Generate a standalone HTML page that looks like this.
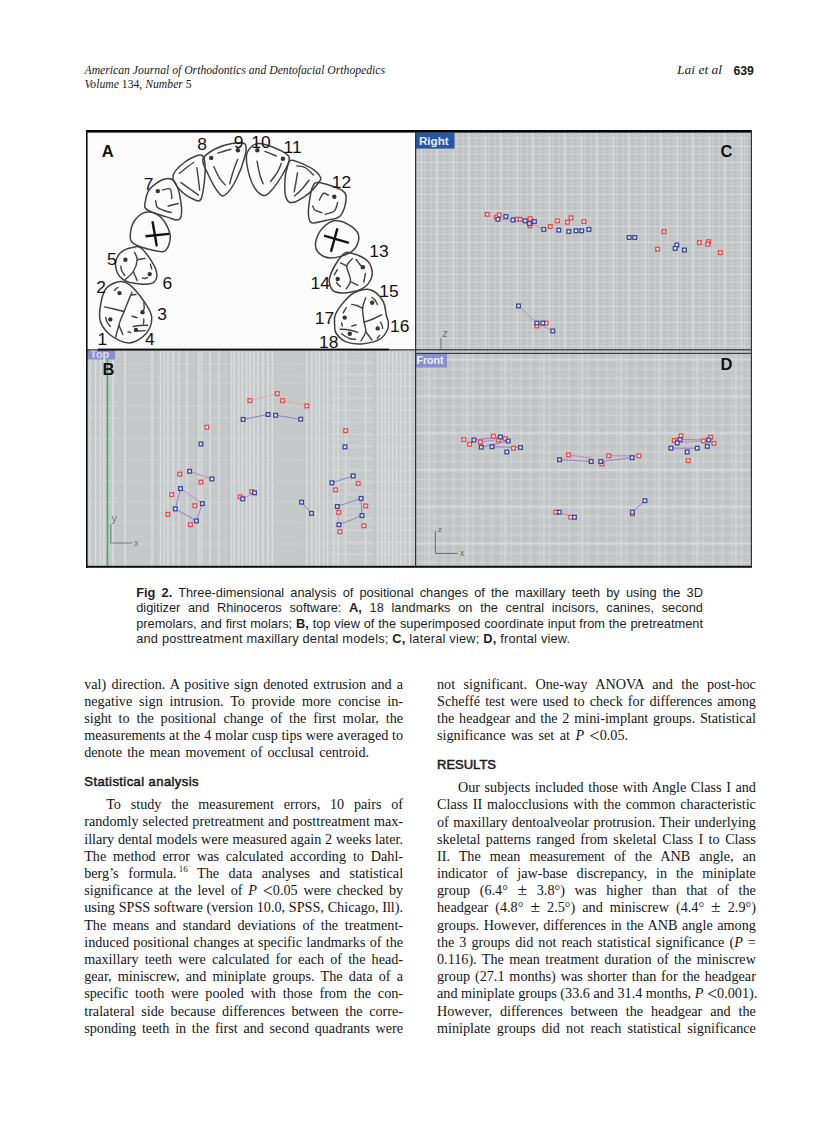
<!DOCTYPE html>
<html><head><meta charset="utf-8">
<style>
html,body{margin:0;padding:0;}
body{width:838px;height:1122px;position:relative;background:#fff;overflow:hidden;color:#111;}
.b{position:absolute;font-family:"Liberation Serif",serif;font-size:14.2px;line-height:16.5px;white-space:nowrap;color:#151515;}
.j{text-align:justify;text-align-last:justify;}
.lt{font-size:18px;line-height:0;vertical-align:-2px;}
.pm{font-size:17.5px;line-height:0;}
.b sup{font-size:9px;line-height:0;vertical-align:6px;margin-left:2px;}
.h{position:absolute;font-family:"Liberation Sans",sans-serif;font-weight:normal;-webkit-text-stroke:0.5px #1a1a1a;font-size:13px;line-height:14px;white-space:nowrap;color:#1a1a1a;}
.c{position:absolute;font-family:"Liberation Sans",sans-serif;font-size:12.8px;line-height:14px;white-space:nowrap;color:#1e1e1e;}
.hd{position:absolute;font-family:"Liberation Serif",serif;font-style:italic;white-space:nowrap;color:#1a1a1a;}
svg{position:absolute;left:0;top:0;}
</style></head><body>
<div class="hd" style="left:84.5px;top:64.25px;font-size:11.7px;line-height:13px;">American Journal of Orthodontics and Dentofacial Orthopedics</div>
<div class="hd" style="left:84.5px;top:77.55px;font-size:11.7px;line-height:13px;">Volume <span style="font-style:normal">134,</span> Number <span style="font-style:normal">5</span></div>
<div class="hd" style="left:677px;top:61.74px;font-size:13.5px;line-height:15px;">Lai et al</div>
<div style="position:absolute;left:733.4px;top:64.53px;font-family:'Liberation Sans',sans-serif;font-weight:bold;font-size:12.3px;line-height:13px;color:#1a1a1a;">639</div>
<svg width="838" height="1122" viewBox="0 0 838 1122"><defs>
<pattern id="cV1" patternUnits="userSpaceOnUse" x="1.6" y="0" width="6.4" height="10"><rect x="0" y="0" width="1.1" height="10" fill="#cdd0d0"/></pattern>
<pattern id="cV2" patternUnits="userSpaceOnUse" x="4.8" y="0" width="32" height="10"><rect x="-1.1" y="0" width="2.2" height="10" fill="#dcdfdf"/><rect x="15" y="0" width="1.6" height="10" fill="#d5d8d8"/></pattern>
<pattern id="cH1" patternUnits="userSpaceOnUse" x="0" y="2" width="10" height="16"><rect x="0" y="-1" width="10" height="2" fill="#d9dcdc"/><rect x="0" y="7.5" width="10" height="1.3" fill="#d0d3d3"/><rect x="0" y="4" width="10" height="0.8" fill="#c8cbcb"/><rect x="0" y="12" width="10" height="0.8" fill="#c8cbcb"/></pattern>
<pattern id="dV1" patternUnits="userSpaceOnUse" x="1.8" y="0" width="9.6" height="10"><rect x="-1" y="0" width="2" height="10" fill="#d3d6d6"/><rect x="4.3" y="0" width="1" height="10" fill="#bcc0c0"/></pattern>
<pattern id="dH1" patternUnits="userSpaceOnUse" x="0" y="0.8" width="10" height="9.2"><rect x="0" y="-0.9" width="10" height="1.8" fill="#d3d6d6"/><rect x="0" y="4.1" width="10" height="1" fill="#bec2c2"/></pattern>
<pattern id="dV2" patternUnits="userSpaceOnUse" x="0" y="0" width="38.4" height="10"><rect x="5.6" y="0" width="1.6" height="10" fill="#dadddd" opacity="0.8"/></pattern>
<pattern id="dH2" patternUnits="userSpaceOnUse" x="0" y="0" width="10" height="36.8"><rect x="0" y="27.5" width="10" height="1.6" fill="#dadddd" opacity="0.8"/></pattern>
<pattern id="bH" patternUnits="userSpaceOnUse" x="0" y="1.5" width="10" height="12"><rect x="0" y="0" width="10" height="1.4" fill="#d6d9d9" opacity="0.8"/><rect x="0" y="6" width="10" height="1" fill="#d0d3d3" opacity="0.6"/></pattern>
</defs><rect x="87" y="132" width="328.5" height="218" fill="#fcfcfc"/>
<g><rect x="415.5" y="132" width="336" height="218" fill="#bec2c2"/><rect x="415.5" y="132" width="336" height="218" fill="url(#cV1)"/><rect x="415.5" y="132" width="336" height="218" fill="url(#cH1)"/><rect x="415.5" y="132" width="336" height="218" fill="url(#cV2)"/></g>
<g><rect x="415.5" y="350" width="336" height="216.5" fill="#c3c7c7"/><rect x="415.5" y="350" width="336" height="216.5" fill="url(#dV1)"/><rect x="415.5" y="350" width="336" height="216.5" fill="url(#dH1)"/><rect x="415.5" y="350" width="336" height="216.5" fill="url(#dV2)"/><rect x="415.5" y="350" width="336" height="216.5" fill="url(#dH2)"/></g>
<rect x="87" y="350" width="328.5" height="216.5" fill="#c5c9c9"/>
<rect x="89.2" y="350" width="1.5" height="216.5" fill="#dadddd"/>
<rect x="94.8" y="350" width="1.5" height="216.5" fill="#dadddd"/>
<rect x="99.8" y="350" width="1.5" height="216.5" fill="#dadddd"/>
<rect x="103.2" y="350" width="1.5" height="216.5" fill="#dadddd"/>
<rect x="112.2" y="350" width="1.5" height="216.5" fill="#dadddd"/>
<rect x="124.2" y="350" width="1.5" height="216.5" fill="#dadddd"/>
<rect x="151.2" y="350" width="1.5" height="216.5" fill="#dadddd"/>
<rect x="159.8" y="350" width="1.5" height="216.5" fill="#dadddd"/>
<rect x="163.6" y="350" width="1.5" height="216.5" fill="#dadddd"/>
<rect x="167.2" y="350" width="1.5" height="216.5" fill="#dadddd"/>
<rect x="172.2" y="350" width="1.5" height="216.5" fill="#dadddd"/>
<rect x="177.9" y="350" width="1.5" height="216.5" fill="#dadddd"/>
<rect x="186.2" y="350" width="1.5" height="216.5" fill="#dadddd"/>
<rect x="197.8" y="350" width="1.5" height="216.5" fill="#dadddd"/>
<rect x="200.8" y="350" width="1.5" height="216.5" fill="#dadddd"/>
<rect x="209.2" y="350" width="1.5" height="216.5" fill="#dadddd"/>
<rect x="217.9" y="350" width="1.5" height="216.5" fill="#dadddd"/>
<rect x="230.8" y="350" width="1.5" height="216.5" fill="#dadddd"/>
<rect x="233.7" y="350" width="1.5" height="216.5" fill="#dadddd"/>
<rect x="237.9" y="350" width="1.5" height="216.5" fill="#dadddd"/>
<rect x="241.6" y="350" width="1.5" height="216.5" fill="#dadddd"/>
<rect x="245.8" y="350" width="1.5" height="216.5" fill="#dadddd"/>
<rect x="249.4" y="350" width="1.5" height="216.5" fill="#dadddd"/>
<rect x="253.1" y="350" width="1.5" height="216.5" fill="#dadddd"/>
<rect x="257.2" y="350" width="1.5" height="216.5" fill="#dadddd"/>
<rect x="262.2" y="350" width="1.5" height="216.5" fill="#dadddd"/>
<rect x="267.2" y="350" width="1.5" height="216.5" fill="#dadddd"/>
<rect x="271.6" y="350" width="1.5" height="216.5" fill="#dadddd"/>
<rect x="305.8" y="350" width="1.5" height="216.5" fill="#dadddd"/>
<rect x="311.1" y="350" width="1.5" height="216.5" fill="#dadddd"/>
<rect x="315.1" y="350" width="1.5" height="216.5" fill="#dadddd"/>
<rect x="318.6" y="350" width="1.5" height="216.5" fill="#dadddd"/>
<rect x="322.8" y="350" width="1.5" height="216.5" fill="#dadddd"/>
<rect x="326.9" y="350" width="1.5" height="216.5" fill="#dadddd"/>
<rect x="333.2" y="350" width="1.5" height="216.5" fill="#dadddd"/>
<rect x="337.4" y="350" width="1.5" height="216.5" fill="#dadddd"/>
<rect x="344.9" y="350" width="1.5" height="216.5" fill="#dadddd"/>
<rect x="364.8" y="350" width="1.5" height="216.5" fill="#dadddd"/>
<rect x="376.9" y="350" width="1.5" height="216.5" fill="#dadddd"/>
<rect x="380.9" y="350" width="1.5" height="216.5" fill="#dadddd"/>
<rect x="384.6" y="350" width="1.5" height="216.5" fill="#dadddd"/>
<rect x="388.1" y="350" width="1.5" height="216.5" fill="#dadddd"/>
<rect x="391.9" y="350" width="1.5" height="216.5" fill="#dadddd"/>
<rect x="395.8" y="350" width="1.5" height="216.5" fill="#dadddd"/>
<rect x="399.8" y="350" width="1.5" height="216.5" fill="#dadddd"/>
<rect x="404.2" y="350" width="1.5" height="216.5" fill="#dadddd"/>
<rect x="409.2" y="350" width="1.5" height="216.5" fill="#dadddd"/>
<rect x="330" y="350" width="85.5" height="216.5" fill="url(#bH)"/>
<rect x="121.0" y="350" width="2" height="216.5" fill="#bfc3c3" opacity="0.7"/>
<rect x="154.8" y="350" width="2" height="216.5" fill="#bfc3c3" opacity="0.7"/>
<rect x="195.0" y="350" width="2" height="216.5" fill="#bfc3c3" opacity="0.7"/>
<rect x="228.0" y="350" width="2" height="216.5" fill="#bfc3c3" opacity="0.7"/>
<rect x="303.0" y="350" width="2" height="216.5" fill="#bfc3c3" opacity="0.7"/>
<rect x="374.0" y="350" width="2" height="216.5" fill="#bfc3c3" opacity="0.7"/>
<rect x="87" y="363.7" width="328.5" height="1.2" fill="#d3d6d6" opacity="0.6"/>
<rect x="87" y="375.4" width="328.5" height="1.2" fill="#d3d6d6" opacity="0.6"/>
<rect x="87" y="382.4" width="328.5" height="1.2" fill="#d3d6d6" opacity="0.6"/>
<rect x="87" y="405.4" width="328.5" height="1.2" fill="#d3d6d6" opacity="0.6"/>
<rect x="87" y="417.2" width="328.5" height="1.2" fill="#d3d6d6" opacity="0.6"/>
<rect x="87" y="438.2" width="328.5" height="1.2" fill="#d3d6d6" opacity="0.6"/>
<rect x="87" y="459.4" width="328.5" height="1.2" fill="#d3d6d6" opacity="0.6"/>
<rect x="87" y="480.4" width="328.5" height="1.2" fill="#d3d6d6" opacity="0.6"/>
<rect x="87" y="501.4" width="328.5" height="1.2" fill="#d3d6d6" opacity="0.6"/>
<rect x="87" y="522.4" width="328.5" height="1.2" fill="#d3d6d6" opacity="0.6"/>
<rect x="87" y="543.4" width="328.5" height="1.2" fill="#d3d6d6" opacity="0.6"/>
<path d="M117.6 282.0 C121.8 280.9 124.8 281.1 129.4 284.6 C134.0 288.1 141.4 297.5 145.1 303.0 C148.8 308.5 151.5 312.4 151.7 317.4 C151.9 322.4 150.1 328.9 146.4 333.2 C142.7 337.5 135.5 342.8 129.4 343.0 C123.3 343.2 114.6 338.6 109.7 334.5 C104.8 330.4 100.7 325.9 99.8 318.7 C98.9 311.5 101.4 297.3 104.4 291.2 C107.4 285.1 113.4 283.1 117.6 282.0Z" fill="none" stroke="#404040" stroke-width="1.5"/>
<path d="M133.3 247.2 C137.0 246.5 138.8 245.6 142.5 249.2 C146.2 252.8 153.6 263.4 155.6 268.9 C157.6 274.4 156.9 279.5 154.3 282.0 C151.7 284.5 145.2 284.4 139.9 284.0 C134.7 283.6 126.8 282.4 122.8 279.4 C118.8 276.4 116.0 270.6 115.6 266.2 C115.2 261.8 117.2 256.3 120.2 253.1 C123.2 249.9 129.6 247.8 133.3 247.2Z" fill="none" stroke="#404040" stroke-width="1.5"/>
<path d="M147.6 212.0 C151.9 211.8 157.8 214.1 161.6 218.0 C165.4 221.9 169.5 229.8 170.2 235.2 C170.9 240.6 168.4 247.6 165.9 250.2 C163.4 252.8 160.6 251.8 155.2 250.7 C149.8 249.6 137.8 246.6 133.7 243.7 C129.6 240.8 130.1 237.1 130.4 233.0 C130.8 228.9 132.9 222.5 135.8 219.0 C138.7 215.5 143.3 212.2 147.6 212.0Z" fill="none" stroke="#404040" stroke-width="1.5"/>
<path d="M149.8 189.0 C152.8 185.4 159.6 180.6 163.7 179.3 C167.8 178.0 171.6 177.6 174.5 181.4 C177.4 185.2 180.0 195.6 180.9 201.9 C181.8 208.2 182.1 216.4 179.9 219.0 C177.8 221.6 173.6 219.0 168.0 217.4 C162.4 215.8 150.3 212.2 146.6 209.4 C142.8 206.6 145.0 204.2 145.5 200.8 C146.0 197.4 146.8 192.6 149.8 189.0Z" fill="none" stroke="#404040" stroke-width="1.5"/>
<path d="M173.0 176.0 C173.8 171.3 180.3 165.5 185.0 162.0 C189.7 158.5 197.7 154.5 201.0 155.0 C204.3 155.5 204.5 160.0 205.0 165.0 C205.5 170.0 204.7 179.3 204.0 185.0 C203.3 190.7 202.5 196.5 201.0 199.0 C199.5 201.5 198.5 201.5 195.0 200.0 C191.5 198.5 183.7 194.0 180.0 190.0 C176.3 186.0 172.2 180.7 173.0 176.0Z" fill="none" stroke="#404040" stroke-width="1.5"/>
<path d="M203.0 159.0 C204.3 155.2 210.2 151.6 215.0 149.0 C219.8 146.4 227.0 144.3 232.0 143.5 C237.0 142.7 242.8 141.9 245.0 144.0 C247.2 146.1 246.5 150.0 245.0 156.0 C243.5 162.0 239.3 173.5 236.0 180.0 C232.7 186.5 228.0 193.0 225.0 195.0 C222.0 197.0 221.0 195.8 218.0 192.0 C215.0 188.2 209.5 177.5 207.0 172.0 C204.5 166.5 201.7 162.8 203.0 159.0Z" fill="none" stroke="#404040" stroke-width="1.5"/>
<path d="M247.5 152.0 C249.3 148.4 253.4 144.2 258.0 143.5 C262.6 142.8 269.8 145.8 275.0 148.0 C280.2 150.2 287.5 153.0 289.0 157.0 C290.5 161.0 287.2 166.2 284.0 172.0 C280.8 177.8 273.7 188.2 270.0 192.0 C266.3 195.8 264.8 196.2 262.0 195.0 C259.2 193.8 255.5 190.0 253.0 185.0 C250.5 180.0 247.9 170.5 247.0 165.0 C246.1 159.5 245.7 155.6 247.5 152.0Z" fill="none" stroke="#404040" stroke-width="1.5"/>
<path d="M292.0 160.2 C296.0 160.5 307.0 165.7 311.7 168.4 C316.4 171.2 318.9 174.4 320.1 176.7 C321.3 179.0 321.1 179.1 319.0 182.0 C316.9 184.9 312.2 190.9 307.6 194.3 C303.1 197.7 295.3 202.2 291.7 202.6 C288.1 203.0 286.9 200.7 285.8 196.8 C284.7 192.9 284.7 184.2 285.0 179.2 C285.3 174.2 286.3 169.9 287.5 166.7 C288.7 163.5 288.0 159.9 292.0 160.2Z" fill="none" stroke="#404040" stroke-width="1.5"/>
<path d="M318.4 182.6 C323.3 183.1 337.2 187.2 341.8 190.1 C346.4 193.0 346.3 195.8 346.0 200.1 C345.7 204.4 343.4 212.7 340.2 216.0 C337.0 219.3 331.6 219.1 326.8 220.2 C322.1 221.3 314.8 223.8 311.7 222.7 C308.6 221.6 308.7 217.8 308.4 213.5 C308.1 209.2 309.4 201.2 310.1 196.8 C310.8 192.4 311.2 189.4 312.6 187.0 C314.0 184.6 313.5 182.1 318.4 182.6Z" fill="none" stroke="#404040" stroke-width="1.5"/>
<path d="M335.6 220.4 C340.4 220.3 347.8 223.9 351.7 226.7 C355.6 229.5 358.9 233.2 358.9 237.4 C358.9 241.6 356.5 248.3 351.7 251.7 C346.9 255.1 335.9 258.0 330.2 258.0 C324.5 258.0 320.1 254.5 317.7 251.7 C315.3 248.9 315.0 245.0 315.9 241.0 C316.8 237.0 319.8 230.9 323.1 227.5 C326.4 224.1 330.8 220.5 335.6 220.4Z" fill="none" stroke="#404040" stroke-width="1.5"/>
<path d="M343.6 254.2 C346.0 252.2 346.4 251.9 350.0 252.7 C353.6 253.5 361.8 256.6 365.4 259.2 C369.0 261.8 370.7 265.2 371.6 268.5 C372.5 271.8 372.4 275.8 371.0 279.0 C369.6 282.2 367.6 285.5 363.5 287.8 C359.4 290.1 351.6 292.1 346.7 292.7 C341.8 293.3 337.1 292.6 334.3 291.5 C331.6 290.4 331.0 288.3 330.2 286.0 C329.4 283.7 328.7 281.4 329.6 277.8 C330.5 274.2 333.2 268.4 335.5 264.5 C337.8 260.6 341.2 256.2 343.6 254.2Z" fill="none" stroke="#404040" stroke-width="1.5"/>
<path d="M346.0 299.5 C349.4 295.8 351.6 293.6 355.6 292.0 C359.7 290.4 365.8 288.3 370.3 289.7 C374.8 291.1 380.0 296.1 382.7 300.5 C385.4 304.9 385.6 312.4 386.5 316.0 C387.4 319.6 388.2 319.7 388.3 322.0 C388.4 324.3 388.8 327.1 387.4 330.0 C385.9 332.9 384.0 337.0 379.6 339.3 C375.2 341.6 366.7 343.5 361.0 343.9 C355.3 344.3 349.7 343.4 345.5 341.6 C341.3 339.8 337.8 335.7 336.0 333.0 C334.2 330.3 334.8 328.4 334.7 325.3 C334.6 322.2 333.5 318.8 335.4 314.5 C337.3 310.2 342.6 303.2 346.0 299.5Z" fill="none" stroke="#404040" stroke-width="1.5"/>
<path d="M162.7 190.0 C163.9 189.8 168.7 187.6 170.2 189.0 C171.7 190.4 171.5 197.0 171.8 198.6" fill="none" stroke="#404040" stroke-width="1.4" stroke-linecap="round"/>
<path d="M155.7 200.8 C156.0 201.9 155.9 205.6 157.3 207.2 C158.7 208.8 161.7 209.6 164.0 210.5 C166.3 211.4 170.1 212.2 171.3 212.6" fill="none" stroke="#404040" stroke-width="1.4" stroke-linecap="round"/>
<path d="M168.0 206.1 C169.7 205.7 176.5 203.9 178.2 203.5" fill="none" stroke="#404040" stroke-width="1.4" stroke-linecap="round"/>
<path d="M217.8 153.1 C220.0 152.4 228.7 149.8 230.9 149.2" fill="none" stroke="#404040" stroke-width="1.4" stroke-linecap="round"/>
<path d="M213.9 166.7 C214.8 168.6 217.6 175.1 219.5 178.1 C221.4 181.1 224.2 183.8 225.2 184.9" fill="none" stroke="#404040" stroke-width="1.4" stroke-linecap="round"/>
<path d="M237.7 159.4 C236.9 161.5 234.3 167.9 233.0 172.0 C231.7 176.1 230.2 181.8 229.7 183.8" fill="none" stroke="#404040" stroke-width="1.4" stroke-linecap="round"/>
<path d="M264.9 151.4 C266.8 152.2 274.3 155.2 276.2 156.0" fill="none" stroke="#404040" stroke-width="1.4" stroke-linecap="round"/>
<path d="M257.0 161.1 C257.5 163.4 258.8 170.9 259.8 174.7 C260.8 178.5 262.6 182.3 263.2 183.8" fill="none" stroke="#404040" stroke-width="1.4" stroke-linecap="round"/>
<path d="M281.3 163.3 C280.6 164.8 279.2 169.4 277.4 172.4 C275.6 175.4 271.7 180.0 270.6 181.5" fill="none" stroke="#404040" stroke-width="1.4" stroke-linecap="round"/>
<path d="M179.3 173.4 C180.4 172.5 183.6 169.8 186.0 168.0 C188.4 166.2 192.2 163.4 193.5 162.5" fill="none" stroke="#404040" stroke-width="1.4" stroke-linecap="round"/>
<path d="M180.9 182.6 C182.4 183.7 187.1 186.9 190.0 189.0 C192.9 191.1 197.1 194.1 198.5 195.1" fill="none" stroke="#404040" stroke-width="1.4" stroke-linecap="round"/>
<path d="M196.8 167.6 C197.1 169.7 198.0 176.2 198.5 180.0 C199.0 183.8 199.5 188.4 199.7 190.1" fill="none" stroke="#404040" stroke-width="1.4" stroke-linecap="round"/>
<path d="M296.7 165.9 C298.1 166.2 302.3 166.0 305.1 167.5 C307.9 169.0 312.0 173.8 313.4 175.1" fill="none" stroke="#404040" stroke-width="1.4" stroke-linecap="round"/>
<path d="M297.5 172.6 C297.2 174.2 296.6 178.8 296.0 182.0 C295.4 185.2 294.5 190.2 294.2 191.8" fill="none" stroke="#404040" stroke-width="1.4" stroke-linecap="round"/>
<path d="M309.2 180.1 C308.0 181.6 304.4 186.3 302.0 189.0 C299.6 191.7 295.8 194.8 294.6 196.0" fill="none" stroke="#404040" stroke-width="1.4" stroke-linecap="round"/>
<path d="M319.3 200.1 C320.0 199.0 321.9 194.2 323.4 193.4 C324.9 192.6 327.6 194.8 328.5 195.1" fill="none" stroke="#404040" stroke-width="1.4" stroke-linecap="round"/>
<path d="M312.6 206.0 C313.0 206.7 313.6 209.1 315.1 210.2 C316.6 211.3 320.7 212.3 321.8 212.7" fill="none" stroke="#404040" stroke-width="1.4" stroke-linecap="round"/>
<path d="M325.1 214.3 C326.6 213.8 332.2 212.9 334.3 211.0 C336.4 209.1 337.1 204.0 337.6 202.6" fill="none" stroke="#404040" stroke-width="1.4" stroke-linecap="round"/>
<path d="M104.4 306.9 C106.0 307.2 110.7 308.2 114.0 309.0 C117.3 309.8 122.4 311.1 124.1 311.5" fill="none" stroke="#404040" stroke-width="1.4" stroke-linecap="round"/>
<path d="M132.0 292.5 C131.8 292.9 131.4 293.4 130.7 295.1 C129.9 296.9 128.6 300.3 127.5 303.0 C126.4 305.7 125.3 308.7 124.1 311.5 C122.9 314.3 121.4 317.7 120.5 320.0 C119.6 322.3 119.7 322.4 118.9 325.3 C118.1 328.2 116.1 335.1 115.6 337.1" fill="none" stroke="#404040" stroke-width="1.4" stroke-linecap="round"/>
<path d="M130.7 295.1 C131.6 295.0 135.1 294.6 136.0 294.5" fill="none" stroke="#404040" stroke-width="1.4" stroke-linecap="round"/>
<path d="M118.9 325.3 C119.6 326.8 122.2 333.0 122.8 334.5" fill="none" stroke="#404040" stroke-width="1.4" stroke-linecap="round"/>
<path d="M114.3 290.5 C114.8 290.0 117.0 288.0 117.5 287.5" fill="none" stroke="#404040" stroke-width="1.4" stroke-linecap="round"/>
<path d="M143.8 303.0 C143.9 303.8 144.3 306.7 144.2 308.0 C144.1 309.3 143.2 310.5 143.0 311.0" fill="none" stroke="#404040" stroke-width="1.4" stroke-linecap="round"/>
<path d="M132.0 316.3 C132.9 316.5 136.3 317.4 137.2 317.6" fill="none" stroke="#404040" stroke-width="1.4" stroke-linecap="round"/>
<path d="M143.8 319.0 C143.8 319.8 143.6 323.2 143.5 324.0" fill="none" stroke="#404040" stroke-width="1.4" stroke-linecap="round"/>
<path d="M133.3 326.5 C134.4 326.3 137.6 325.7 140.0 325.5 C142.4 325.3 146.4 325.3 147.7 325.3" fill="none" stroke="#404040" stroke-width="1.4" stroke-linecap="round"/>
<path d="M134.6 330.6 C135.5 330.7 138.2 331.0 140.0 331.0 C141.8 331.0 144.2 330.7 145.1 330.6" fill="none" stroke="#404040" stroke-width="1.4" stroke-linecap="round"/>
<path d="M105.7 317.4 C105.9 318.2 106.2 320.5 107.0 322.0 C107.8 323.5 109.8 325.8 110.3 326.6" fill="none" stroke="#404040" stroke-width="1.4" stroke-linecap="round"/>
<path d="M128.0 331.9 C128.4 332.0 130.2 332.4 130.7 332.5" fill="none" stroke="#404040" stroke-width="1.4" stroke-linecap="round"/>
<path d="M134.6 252.5 C135.0 253.7 137.4 256.5 137.2 259.7 C137.0 262.9 135.3 268.2 133.3 271.5 C131.3 274.8 126.7 278.1 125.4 279.4" fill="none" stroke="#404040" stroke-width="1.4" stroke-linecap="round"/>
<path d="M137.2 259.7 C138.5 259.5 143.8 258.6 145.1 258.4" fill="none" stroke="#404040" stroke-width="1.4" stroke-linecap="round"/>
<path d="M133.3 271.5 C134.0 273.0 136.5 279.2 137.2 280.7" fill="none" stroke="#404040" stroke-width="1.4" stroke-linecap="round"/>
<path d="M120.8 266.2 C121.0 267.0 121.1 269.5 121.8 271.0 C122.5 272.5 124.3 274.7 124.8 275.4" fill="none" stroke="#404040" stroke-width="1.4" stroke-linecap="round"/>
<path d="M150.4 264.3 C150.6 265.1 151.5 268.1 151.7 268.9" fill="none" stroke="#404040" stroke-width="1.4" stroke-linecap="round"/>
<path d="M142.5 278.0 C142.9 278.1 144.1 278.6 145.0 278.5 C145.9 278.4 147.2 277.6 147.7 277.4" fill="none" stroke="#404040" stroke-width="1.4" stroke-linecap="round"/>
<path d="M340.5 262.9 C341.5 263.4 345.7 265.5 346.7 266.0" fill="none" stroke="#404040" stroke-width="1.4" stroke-linecap="round"/>
<path d="M352.3 258.6 C351.4 259.8 347.2 263.4 346.7 266.0 C346.1 268.6 348.4 271.4 349.0 274.0 C349.6 276.6 351.0 279.0 350.5 281.5 C350.0 284.0 346.8 287.8 346.1 289.0" fill="none" stroke="#404040" stroke-width="1.4" stroke-linecap="round"/>
<path d="M350.5 281.5 C351.7 282.1 356.7 284.7 357.9 285.3" fill="none" stroke="#404040" stroke-width="1.4" stroke-linecap="round"/>
<path d="M356.1 259.5 C356.7 260.2 358.4 262.7 359.5 264.0 C360.6 265.3 362.3 266.8 362.9 267.3" fill="none" stroke="#404040" stroke-width="1.4" stroke-linecap="round"/>
<path d="M365.4 273.5 C365.1 274.9 364.1 280.8 363.8 282.2" fill="none" stroke="#404040" stroke-width="1.4" stroke-linecap="round"/>
<path d="M337.4 269.7 C336.9 270.5 334.8 273.9 334.3 274.7" fill="none" stroke="#404040" stroke-width="1.4" stroke-linecap="round"/>
<path d="M336.5 282.2 C336.8 282.6 337.3 283.8 338.0 284.5 C338.7 285.2 340.1 286.2 340.5 286.5" fill="none" stroke="#404040" stroke-width="1.4" stroke-linecap="round"/>
<path d="M351.7 304.4 C352.6 304.6 355.2 304.9 357.0 305.5 C358.8 306.1 361.7 307.8 362.6 308.3" fill="none" stroke="#404040" stroke-width="1.4" stroke-linecap="round"/>
<path d="M365.7 297.8 C365.2 299.6 362.9 304.2 362.6 308.3 C362.3 312.4 363.6 318.3 364.1 322.2 C364.6 326.1 366.2 328.4 365.7 331.5 C365.2 334.6 361.8 339.2 361.0 340.8" fill="none" stroke="#404040" stroke-width="1.4" stroke-linecap="round"/>
<path d="M365.7 331.5 C366.7 332.9 370.9 338.6 371.9 340.0" fill="none" stroke="#404040" stroke-width="1.4" stroke-linecap="round"/>
<path d="M364.1 322.2 C365.6 321.7 370.0 320.2 373.0 319.0 C376.0 317.8 380.4 315.5 381.9 314.8" fill="none" stroke="#404040" stroke-width="1.4" stroke-linecap="round"/>
<path d="M371.9 297.4 C372.4 297.8 374.1 298.8 375.0 300.0 C375.9 301.2 376.9 303.7 377.3 304.4" fill="none" stroke="#404040" stroke-width="1.4" stroke-linecap="round"/>
<path d="M346.3 307.5 C345.8 308.4 343.7 312.0 343.2 312.9" fill="none" stroke="#404040" stroke-width="1.4" stroke-linecap="round"/>
<path d="M341.6 323.0 C341.7 323.5 342.3 325.6 342.4 326.1" fill="none" stroke="#404040" stroke-width="1.4" stroke-linecap="round"/>
<path d="M351.7 326.1 C352.5 325.9 355.6 325.1 356.4 324.9" fill="none" stroke="#404040" stroke-width="1.4" stroke-linecap="round"/>
<path d="M340.1 329.2 C341.7 329.3 346.4 329.5 349.4 330.0 C352.4 330.5 356.5 331.9 357.9 332.3" fill="none" stroke="#404040" stroke-width="1.4" stroke-linecap="round"/>
<path d="M341.6 333.8 C342.9 334.6 347.1 337.6 349.4 338.5 C351.7 339.4 354.6 339.2 355.6 339.3" fill="none" stroke="#404040" stroke-width="1.4" stroke-linecap="round"/>
<path d="M380.4 322.2 C380.7 322.7 381.6 324.0 382.0 325.0 C382.4 326.0 382.6 327.8 382.7 328.4" fill="none" stroke="#404040" stroke-width="1.4" stroke-linecap="round"/>
<path d="M379.6 335.4 C379.2 335.9 377.7 338.0 377.3 338.5" fill="none" stroke="#404040" stroke-width="1.4" stroke-linecap="round"/>
<circle cx="119.5" cy="293.1" r="2.2" fill="#333"/>
<circle cx="142.5" cy="312.2" r="2.2" fill="#333"/>
<circle cx="110.3" cy="319.4" r="2.2" fill="#333"/>
<circle cx="136.0" cy="329.9" r="2.2" fill="#333"/>
<circle cx="125.4" cy="259.7" r="2.2" fill="#333"/>
<circle cx="149.7" cy="274.1" r="2.2" fill="#333"/>
<circle cx="157.8" cy="191.1" r="2.2" fill="#333"/>
<circle cx="211.2" cy="157.9" r="2.2" fill="#333"/>
<circle cx="237.9" cy="150.2" r="2.2" fill="#333"/>
<circle cx="257.3" cy="150.2" r="2.2" fill="#333"/>
<circle cx="282.9" cy="158.7" r="2.2" fill="#333"/>
<circle cx="362.9" cy="267.3" r="2.2" fill="#333"/>
<circle cx="337.7" cy="279.0" r="2.2" fill="#333"/>
<circle cx="372.2" cy="302.8" r="2.2" fill="#333"/>
<circle cx="344.7" cy="317.6" r="2.2" fill="#333"/>
<circle cx="377.7" cy="328.4" r="2.2" fill="#333"/>
<circle cx="349.8" cy="333.8" r="2.2" fill="#333"/>
<circle cx="334.3" cy="196.8" r="2.2" fill="#333"/>
<path d="M152.5 221.2L156.8 246.4M145.5 236.2L169.1 233.9M337.4 228.4L331 251.7M324 235.6L349 242.8" stroke="#111" stroke-width="2.4" fill="none"/>
<text x="97.5" y="345.0" font-family="Liberation Sans" font-size="17.4" fill="#111">1</text>
<text x="96.3" y="292.5" font-family="Liberation Sans" font-size="17.4" fill="#111">2</text>
<text x="157.3" y="320.2" font-family="Liberation Sans" font-size="17.4" fill="#111">3</text>
<text x="145.0" y="345.2" font-family="Liberation Sans" font-size="17.4" fill="#111">4</text>
<text x="107.0" y="265.0" font-family="Liberation Sans" font-size="17.4" fill="#111">5</text>
<text x="162.6" y="288.6" font-family="Liberation Sans" font-size="17.4" fill="#111">6</text>
<text x="143.8" y="190.0" font-family="Liberation Sans" font-size="17.4" fill="#111">7</text>
<text x="197.3" y="149.7" font-family="Liberation Sans" font-size="17.4" fill="#111">8</text>
<text x="233.8" y="148.0" font-family="Liberation Sans" font-size="17.4" fill="#111">9</text>
<text x="251.3" y="147.9" font-family="Liberation Sans" font-size="17.4" fill="#111">10</text>
<text x="283.5" y="153.3" font-family="Liberation Sans" font-size="17.4" fill="#111">11</text>
<text x="331.8" y="188.2" font-family="Liberation Sans" font-size="17.4" fill="#111">12</text>
<text x="369.3" y="257.2" font-family="Liberation Sans" font-size="17.4" fill="#111">13</text>
<text x="310.5" y="288.7" font-family="Liberation Sans" font-size="17.4" fill="#111">14</text>
<text x="379.3" y="297.3" font-family="Liberation Sans" font-size="17.4" fill="#111">15</text>
<text x="390.1" y="331.7" font-family="Liberation Sans" font-size="17.4" fill="#111">16</text>
<text x="314.8" y="323.8" font-family="Liberation Sans" font-size="17.4" fill="#111">17</text>
<text x="319.1" y="348.2" font-family="Liberation Sans" font-size="17.4" fill="#111">18</text>
<text x="101.8" y="157" font-family="Liberation Sans" font-weight="bold" font-size="16.5" fill="#111">A</text>
<text x="720.5" y="157" font-family="Liberation Sans" font-weight="bold" font-size="16.5" fill="#111">C</text>
<text x="720.5" y="369.6" font-family="Liberation Sans" font-weight="bold" font-size="16.5" fill="#111">D</text>
<rect x="415.5" y="132.6" width="39" height="16" fill="#2656aa"/>
<text x="419" y="145" font-family="Liberation Sans" font-weight="bold" font-size="11.6" fill="#e8eef8">Right</text>
<rect x="415.5" y="353" width="31.5" height="14.5" fill="#8890d0"/>
<text x="416.5" y="364.3" font-family="Liberation Sans" font-weight="bold" font-size="10.6" fill="#f2f2fb">Front</text>
<rect x="87" y="350" width="28" height="9.5" fill="#8a90cc"/>
<text x="90" y="357.5" font-family="Liberation Sans" font-weight="bold" font-size="11" fill="#dde">Top</text>
<rect x="106.7" y="359.5" width="1.6" height="207" fill="#3fae6a"/>
<text x="102.5" y="375" font-family="Liberation Sans" font-weight="bold" font-size="16.5" fill="#111">B</text>
<path d="M110.8 523.9V543H132.5" stroke="#777" stroke-width="1" fill="none"/>
<text x="111.5" y="522" font-family="Liberation Sans" font-size="11" fill="#7a7a7a">y</text>
<text x="134" y="545.5" font-family="Liberation Sans" font-size="9" fill="#777">x</text>
<path d="M435.3 530.9V553.4H457.6" stroke="#666" stroke-width="1" fill="none"/>
<text x="437.8" y="531.5" font-family="Liberation Sans" font-size="8" fill="#666">z</text>
<text x="459.8" y="555.5" font-family="Liberation Sans" font-size="9" fill="#666">x</text>
<path d="M440.9 338V350" stroke="#777" stroke-width="1" fill="none"/>
<text x="442.5" y="336.5" font-family="Liberation Sans" font-style="italic" font-size="10" fill="#707070">z</text>
<line x1="497.9" y1="219.3" x2="525.1" y2="220.8" stroke="#d070c0" stroke-width="1" opacity="0.8"/>
<line x1="525.1" y1="220.8" x2="543.8" y2="229.4" stroke="#d070c0" stroke-width="1" opacity="0.8"/>
<line x1="520.1" y1="219.3" x2="530.1" y2="225.8" stroke="#d070c0" stroke-width="1" opacity="0.8"/>
<line x1="518.5" y1="305.9" x2="536.9" y2="323.1" stroke="#d070c0" stroke-width="1" opacity="0.8"/>
<line x1="536.9" y1="323.1" x2="552.8" y2="330.9" stroke="#d070c0" stroke-width="1" opacity="0.8"/>
<rect x="484.7" y="211.8" width="5" height="5" fill="#e64c4c"/><rect x="486.0" y="213.1" width="2.4" height="2.4" fill="#f6e4e4"/>
<rect x="494.0" y="214.7" width="5" height="5" fill="#e64c4c"/><rect x="495.3" y="216.0" width="2.4" height="2.4" fill="#f6e4e4"/>
<rect x="496.8" y="212.5" width="5" height="5" fill="#e64c4c"/><rect x="498.1" y="213.8" width="2.4" height="2.4" fill="#f6e4e4"/>
<rect x="514.7" y="216.8" width="5" height="5" fill="#e64c4c"/><rect x="516.0" y="218.1" width="2.4" height="2.4" fill="#f6e4e4"/>
<rect x="517.6" y="216.8" width="5" height="5" fill="#e64c4c"/><rect x="518.9" y="218.1" width="2.4" height="2.4" fill="#f6e4e4"/>
<rect x="527.6" y="216.1" width="5" height="5" fill="#e64c4c"/><rect x="528.9" y="217.4" width="2.4" height="2.4" fill="#f6e4e4"/>
<rect x="527.6" y="223.3" width="5" height="5" fill="#e64c4c"/><rect x="528.9" y="224.6" width="2.4" height="2.4" fill="#f6e4e4"/>
<rect x="547.7" y="224.0" width="5" height="5" fill="#e64c4c"/><rect x="549.0" y="225.3" width="2.4" height="2.4" fill="#f6e4e4"/>
<rect x="554.9" y="218.3" width="5" height="5" fill="#e64c4c"/><rect x="556.2" y="219.6" width="2.4" height="2.4" fill="#f6e4e4"/>
<rect x="564.9" y="219.7" width="5" height="5" fill="#e64c4c"/><rect x="566.2" y="221.0" width="2.4" height="2.4" fill="#f6e4e4"/>
<rect x="568.5" y="215.4" width="5" height="5" fill="#e64c4c"/><rect x="569.8" y="216.7" width="2.4" height="2.4" fill="#f6e4e4"/>
<rect x="581.4" y="219.0" width="5" height="5" fill="#e64c4c"/><rect x="582.7" y="220.3" width="2.4" height="2.4" fill="#f6e4e4"/>
<rect x="661.5" y="229.2" width="5" height="5" fill="#e64c4c"/><rect x="662.8" y="230.5" width="2.4" height="2.4" fill="#f6e4e4"/>
<rect x="655.1" y="246.7" width="5" height="5" fill="#e64c4c"/><rect x="656.4" y="248.0" width="2.4" height="2.4" fill="#f6e4e4"/>
<rect x="696.9" y="240.1" width="5" height="5" fill="#e64c4c"/><rect x="698.2" y="241.4" width="2.4" height="2.4" fill="#f6e4e4"/>
<rect x="706.1" y="239.2" width="5" height="5" fill="#e64c4c"/><rect x="707.4" y="240.5" width="2.4" height="2.4" fill="#f6e4e4"/>
<rect x="705.3" y="241.7" width="5" height="5" fill="#e64c4c"/><rect x="706.6" y="243.0" width="2.4" height="2.4" fill="#f6e4e4"/>
<rect x="717.8" y="250.1" width="5" height="5" fill="#e64c4c"/><rect x="719.1" y="251.4" width="2.4" height="2.4" fill="#f6e4e4"/>
<rect x="543.6" y="320.6" width="5" height="5" fill="#e64c4c"/><rect x="544.9" y="321.9" width="2.4" height="2.4" fill="#f6e4e4"/>
<rect x="534.4" y="323.4" width="5" height="5" fill="#e64c4c"/><rect x="535.7" y="324.7" width="2.4" height="2.4" fill="#f6e4e4"/>
<rect x="495.4" y="216.8" width="5" height="5" fill="#3e4898"/><rect x="496.7" y="218.1" width="2.4" height="2.4" fill="#e2e4f2"/>
<rect x="503.3" y="214.0" width="5" height="5" fill="#3e4898"/><rect x="504.6" y="215.3" width="2.4" height="2.4" fill="#e2e4f2"/>
<rect x="510.5" y="217.5" width="5" height="5" fill="#3e4898"/><rect x="511.8" y="218.8" width="2.4" height="2.4" fill="#e2e4f2"/>
<rect x="522.6" y="218.3" width="5" height="5" fill="#3e4898"/><rect x="523.9" y="219.6" width="2.4" height="2.4" fill="#e2e4f2"/>
<rect x="526.9" y="221.1" width="5" height="5" fill="#3e4898"/><rect x="528.2" y="222.4" width="2.4" height="2.4" fill="#e2e4f2"/>
<rect x="531.9" y="219.0" width="5" height="5" fill="#3e4898"/><rect x="533.2" y="220.3" width="2.4" height="2.4" fill="#e2e4f2"/>
<rect x="541.3" y="226.9" width="5" height="5" fill="#3e4898"/><rect x="542.6" y="228.2" width="2.4" height="2.4" fill="#e2e4f2"/>
<rect x="556.3" y="227.6" width="5" height="5" fill="#3e4898"/><rect x="557.6" y="228.9" width="2.4" height="2.4" fill="#e2e4f2"/>
<rect x="566.3" y="229.0" width="5" height="5" fill="#3e4898"/><rect x="567.6" y="230.3" width="2.4" height="2.4" fill="#e2e4f2"/>
<rect x="573.5" y="228.3" width="5" height="5" fill="#3e4898"/><rect x="574.8" y="229.6" width="2.4" height="2.4" fill="#e2e4f2"/>
<rect x="579.2" y="228.3" width="5" height="5" fill="#3e4898"/><rect x="580.5" y="229.6" width="2.4" height="2.4" fill="#e2e4f2"/>
<rect x="586.4" y="226.9" width="5" height="5" fill="#3e4898"/><rect x="587.7" y="228.2" width="2.4" height="2.4" fill="#e2e4f2"/>
<rect x="626.7" y="235.0" width="5" height="5" fill="#3e4898"/><rect x="628.0" y="236.3" width="2.4" height="2.4" fill="#e2e4f2"/>
<rect x="632.2" y="235.0" width="5" height="5" fill="#3e4898"/><rect x="633.5" y="236.3" width="2.4" height="2.4" fill="#e2e4f2"/>
<rect x="674.3" y="242.5" width="5" height="5" fill="#3e4898"/><rect x="675.6" y="243.8" width="2.4" height="2.4" fill="#e2e4f2"/>
<rect x="672.7" y="245.9" width="5" height="5" fill="#3e4898"/><rect x="674.0" y="247.2" width="2.4" height="2.4" fill="#e2e4f2"/>
<rect x="681.9" y="247.5" width="5" height="5" fill="#3e4898"/><rect x="683.2" y="248.8" width="2.4" height="2.4" fill="#e2e4f2"/>
<rect x="516.0" y="303.4" width="5" height="5" fill="#3e4898"/><rect x="517.3" y="304.7" width="2.4" height="2.4" fill="#e2e4f2"/>
<rect x="534.4" y="320.6" width="5" height="5" fill="#3e4898"/><rect x="535.7" y="321.9" width="2.4" height="2.4" fill="#e2e4f2"/>
<rect x="540.3" y="320.6" width="5" height="5" fill="#3e4898"/><rect x="541.6" y="321.9" width="2.4" height="2.4" fill="#e2e4f2"/>
<rect x="550.3" y="328.4" width="5" height="5" fill="#3e4898"/><rect x="551.6" y="329.7" width="2.4" height="2.4" fill="#e2e4f2"/>
<line x1="473.9" y1="440.0" x2="500.4" y2="437.0" stroke="#8868c8" stroke-width="1" opacity="0.8"/>
<line x1="481.3" y1="447.2" x2="508.2" y2="441.0" stroke="#8868c8" stroke-width="1" opacity="0.8"/>
<line x1="480.4" y1="442.0" x2="505.4" y2="438.6" stroke="#d070c0" stroke-width="1" opacity="0.8"/>
<line x1="492.0" y1="446.7" x2="520.5" y2="447.5" stroke="#8868c8" stroke-width="1" opacity="0.8"/>
<line x1="559.5" y1="459.7" x2="591.2" y2="461.5" stroke="#8868c8" stroke-width="1" opacity="0.8"/>
<line x1="600.7" y1="461.5" x2="632.1" y2="457.7" stroke="#8868c8" stroke-width="1" opacity="0.8"/>
<line x1="568.5" y1="454.9" x2="591.0" y2="458.0" stroke="#d070c0" stroke-width="1" opacity="0.8"/>
<line x1="608.7" y1="455.8" x2="638.9" y2="455.8" stroke="#d070c0" stroke-width="1" opacity="0.8"/>
<line x1="680.0" y1="439.6" x2="708.7" y2="440.0" stroke="#8868c8" stroke-width="1" opacity="0.8"/>
<line x1="677.2" y1="442.9" x2="703.4" y2="441.0" stroke="#d070c0" stroke-width="1" opacity="0.8"/>
<line x1="671.0" y1="448.2" x2="697.2" y2="448.2" stroke="#8868c8" stroke-width="1" opacity="0.8"/>
<line x1="559.3" y1="512.2" x2="574.4" y2="517.2" stroke="#d070c0" stroke-width="1" opacity="0.8"/>
<line x1="632.4" y1="512.2" x2="644.9" y2="500.7" stroke="#8868c8" stroke-width="1" opacity="0.8"/>
<rect x="461.3" y="437.1" width="5" height="5" fill="#e64c4c"/><rect x="462.6" y="438.4" width="2.4" height="2.4" fill="#f6e4e4"/>
<rect x="467.1" y="441.8" width="5" height="5" fill="#e64c4c"/><rect x="468.4" y="443.1" width="2.4" height="2.4" fill="#f6e4e4"/>
<rect x="477.9" y="439.5" width="5" height="5" fill="#e64c4c"/><rect x="479.2" y="440.8" width="2.4" height="2.4" fill="#f6e4e4"/>
<rect x="490.9" y="433.7" width="5" height="5" fill="#e64c4c"/><rect x="492.2" y="435.0" width="2.4" height="2.4" fill="#f6e4e4"/>
<rect x="496.2" y="437.5" width="5" height="5" fill="#e64c4c"/><rect x="497.5" y="438.8" width="2.4" height="2.4" fill="#f6e4e4"/>
<rect x="502.9" y="436.1" width="5" height="5" fill="#e64c4c"/><rect x="504.2" y="437.4" width="2.4" height="2.4" fill="#f6e4e4"/>
<rect x="511.0" y="445.7" width="5" height="5" fill="#e64c4c"/><rect x="512.3" y="447.0" width="2.4" height="2.4" fill="#f6e4e4"/>
<rect x="566.0" y="452.4" width="5" height="5" fill="#e64c4c"/><rect x="567.3" y="453.7" width="2.4" height="2.4" fill="#f6e4e4"/>
<rect x="599.4" y="461.4" width="5" height="5" fill="#e64c4c"/><rect x="600.7" y="462.7" width="2.4" height="2.4" fill="#f6e4e4"/>
<rect x="606.2" y="453.3" width="5" height="5" fill="#e64c4c"/><rect x="607.5" y="454.6" width="2.4" height="2.4" fill="#f6e4e4"/>
<rect x="636.4" y="453.3" width="5" height="5" fill="#e64c4c"/><rect x="637.7" y="454.6" width="2.4" height="2.4" fill="#f6e4e4"/>
<rect x="678.5" y="433.3" width="5" height="5" fill="#e64c4c"/><rect x="679.8" y="434.6" width="2.4" height="2.4" fill="#f6e4e4"/>
<rect x="671.8" y="438.0" width="5" height="5" fill="#e64c4c"/><rect x="673.1" y="439.3" width="2.4" height="2.4" fill="#f6e4e4"/>
<rect x="700.9" y="438.5" width="5" height="5" fill="#e64c4c"/><rect x="702.2" y="439.8" width="2.4" height="2.4" fill="#f6e4e4"/>
<rect x="708.1" y="434.7" width="5" height="5" fill="#e64c4c"/><rect x="709.4" y="436.0" width="2.4" height="2.4" fill="#f6e4e4"/>
<rect x="711.4" y="440.9" width="5" height="5" fill="#e64c4c"/><rect x="712.7" y="442.2" width="2.4" height="2.4" fill="#f6e4e4"/>
<rect x="685.7" y="458.1" width="5" height="5" fill="#e64c4c"/><rect x="687.0" y="459.4" width="2.4" height="2.4" fill="#f6e4e4"/>
<rect x="553.3" y="509.7" width="5" height="5" fill="#e64c4c"/><rect x="554.6" y="511.0" width="2.4" height="2.4" fill="#f6e4e4"/>
<rect x="568.3" y="514.7" width="5" height="5" fill="#e64c4c"/><rect x="569.6" y="516.0" width="2.4" height="2.4" fill="#f6e4e4"/>
<rect x="629.9" y="511.5" width="5" height="5" fill="#e64c4c"/><rect x="631.2" y="512.8" width="2.4" height="2.4" fill="#f6e4e4"/>
<rect x="471.4" y="437.5" width="5" height="5" fill="#3e4898"/><rect x="472.7" y="438.8" width="2.4" height="2.4" fill="#e2e4f2"/>
<rect x="478.8" y="444.7" width="5" height="5" fill="#3e4898"/><rect x="480.1" y="446.0" width="2.4" height="2.4" fill="#e2e4f2"/>
<rect x="489.5" y="444.2" width="5" height="5" fill="#3e4898"/><rect x="490.8" y="445.5" width="2.4" height="2.4" fill="#e2e4f2"/>
<rect x="497.9" y="434.5" width="5" height="5" fill="#3e4898"/><rect x="499.2" y="435.8" width="2.4" height="2.4" fill="#e2e4f2"/>
<rect x="505.7" y="438.5" width="5" height="5" fill="#3e4898"/><rect x="507.0" y="439.8" width="2.4" height="2.4" fill="#e2e4f2"/>
<rect x="504.3" y="449.5" width="5" height="5" fill="#3e4898"/><rect x="505.6" y="450.8" width="2.4" height="2.4" fill="#e2e4f2"/>
<rect x="518.0" y="445.0" width="5" height="5" fill="#3e4898"/><rect x="519.3" y="446.3" width="2.4" height="2.4" fill="#e2e4f2"/>
<rect x="557.0" y="457.2" width="5" height="5" fill="#3e4898"/><rect x="558.3" y="458.5" width="2.4" height="2.4" fill="#e2e4f2"/>
<rect x="588.7" y="459.0" width="5" height="5" fill="#3e4898"/><rect x="590.0" y="460.3" width="2.4" height="2.4" fill="#e2e4f2"/>
<rect x="598.2" y="459.0" width="5" height="5" fill="#3e4898"/><rect x="599.5" y="460.3" width="2.4" height="2.4" fill="#e2e4f2"/>
<rect x="629.6" y="455.2" width="5" height="5" fill="#3e4898"/><rect x="630.9" y="456.5" width="2.4" height="2.4" fill="#e2e4f2"/>
<rect x="677.5" y="437.1" width="5" height="5" fill="#3e4898"/><rect x="678.8" y="438.4" width="2.4" height="2.4" fill="#e2e4f2"/>
<rect x="674.7" y="440.4" width="5" height="5" fill="#3e4898"/><rect x="676.0" y="441.7" width="2.4" height="2.4" fill="#e2e4f2"/>
<rect x="668.5" y="445.7" width="5" height="5" fill="#3e4898"/><rect x="669.8" y="447.0" width="2.4" height="2.4" fill="#e2e4f2"/>
<rect x="706.2" y="437.5" width="5" height="5" fill="#3e4898"/><rect x="707.5" y="438.8" width="2.4" height="2.4" fill="#e2e4f2"/>
<rect x="704.8" y="443.8" width="5" height="5" fill="#3e4898"/><rect x="706.1" y="445.1" width="2.4" height="2.4" fill="#e2e4f2"/>
<rect x="694.7" y="445.7" width="5" height="5" fill="#3e4898"/><rect x="696.0" y="447.0" width="2.4" height="2.4" fill="#e2e4f2"/>
<rect x="684.7" y="449.5" width="5" height="5" fill="#3e4898"/><rect x="686.0" y="450.8" width="2.4" height="2.4" fill="#e2e4f2"/>
<rect x="556.8" y="509.7" width="5" height="5" fill="#3e4898"/><rect x="558.1" y="511.0" width="2.4" height="2.4" fill="#e2e4f2"/>
<rect x="571.9" y="514.7" width="5" height="5" fill="#3e4898"/><rect x="573.2" y="516.0" width="2.4" height="2.4" fill="#e2e4f2"/>
<rect x="629.9" y="509.7" width="5" height="5" fill="#3e4898"/><rect x="631.2" y="511.0" width="2.4" height="2.4" fill="#e2e4f2"/>
<rect x="642.4" y="498.2" width="5" height="5" fill="#3e4898"/><rect x="643.7" y="499.5" width="2.4" height="2.4" fill="#e2e4f2"/>
<line x1="243.1" y1="419.4" x2="268.1" y2="414.5" stroke="#8868c8" stroke-width="1" opacity="0.8"/>
<line x1="275.6" y1="415.3" x2="300.7" y2="419.2" stroke="#8868c8" stroke-width="1" opacity="0.8"/>
<line x1="249.9" y1="400.6" x2="277.3" y2="393.6" stroke="#e8a0a0" stroke-width="1" opacity="0.8"/>
<line x1="282.6" y1="400.6" x2="306.8" y2="405.9" stroke="#e8a0a0" stroke-width="1" opacity="0.8"/>
<line x1="189.6" y1="471.3" x2="211.9" y2="478.9" stroke="#d070c0" stroke-width="1" opacity="0.8"/>
<line x1="180.5" y1="488.6" x2="175.3" y2="508.9" stroke="#8868c8" stroke-width="1" opacity="0.8"/>
<line x1="175.3" y1="508.9" x2="196.4" y2="520.9" stroke="#8868c8" stroke-width="1" opacity="0.8"/>
<line x1="196.4" y1="520.9" x2="202.4" y2="503.6" stroke="#8868c8" stroke-width="1" opacity="0.8"/>
<line x1="180.5" y1="488.6" x2="202.4" y2="503.6" stroke="#d070c0" stroke-width="1" opacity="0.8"/>
<line x1="242.7" y1="498.8" x2="254.5" y2="492.8" stroke="#d070c0" stroke-width="1" opacity="0.8"/>
<line x1="331.9" y1="482.8" x2="353.2" y2="475.9" stroke="#8868c8" stroke-width="1" opacity="0.8"/>
<line x1="337.3" y1="506.5" x2="361.1" y2="498.4" stroke="#8868c8" stroke-width="1" opacity="0.8"/>
<line x1="361.1" y1="498.4" x2="362.0" y2="515.6" stroke="#8868c8" stroke-width="1" opacity="0.8"/>
<line x1="362.0" y1="515.6" x2="338.9" y2="524.7" stroke="#8868c8" stroke-width="1" opacity="0.8"/>
<line x1="338.9" y1="524.7" x2="337.3" y2="506.5" stroke="#d070c0" stroke-width="1" opacity="0.8"/>
<line x1="301.6" y1="502.2" x2="311.5" y2="513.4" stroke="#8868c8" stroke-width="1" opacity="0.8"/>
<rect x="247.4" y="398.1" width="5" height="5" fill="#e64c4c"/><rect x="248.7" y="399.4" width="2.4" height="2.4" fill="#f6e4e4"/>
<rect x="274.8" y="391.1" width="5" height="5" fill="#e64c4c"/><rect x="276.1" y="392.4" width="2.4" height="2.4" fill="#f6e4e4"/>
<rect x="280.1" y="398.1" width="5" height="5" fill="#e64c4c"/><rect x="281.4" y="399.4" width="2.4" height="2.4" fill="#f6e4e4"/>
<rect x="304.3" y="403.4" width="5" height="5" fill="#e64c4c"/><rect x="305.6" y="404.7" width="2.4" height="2.4" fill="#f6e4e4"/>
<rect x="204.3" y="424.7" width="5" height="5" fill="#e64c4c"/><rect x="205.6" y="426.0" width="2.4" height="2.4" fill="#f6e4e4"/>
<rect x="343.1" y="428.2" width="5" height="5" fill="#e64c4c"/><rect x="344.4" y="429.5" width="2.4" height="2.4" fill="#f6e4e4"/>
<rect x="177.2" y="471.6" width="5" height="5" fill="#e64c4c"/><rect x="178.5" y="472.9" width="2.4" height="2.4" fill="#f6e4e4"/>
<rect x="198.4" y="479.6" width="5" height="5" fill="#e64c4c"/><rect x="199.7" y="480.9" width="2.4" height="2.4" fill="#f6e4e4"/>
<rect x="169.1" y="492.1" width="5" height="5" fill="#e64c4c"/><rect x="170.4" y="493.4" width="2.4" height="2.4" fill="#f6e4e4"/>
<rect x="192.3" y="503.2" width="5" height="5" fill="#e64c4c"/><rect x="193.6" y="504.5" width="2.4" height="2.4" fill="#f6e4e4"/>
<rect x="165.3" y="511.8" width="5" height="5" fill="#e64c4c"/><rect x="166.6" y="513.1" width="2.4" height="2.4" fill="#f6e4e4"/>
<rect x="187.9" y="522.2" width="5" height="5" fill="#e64c4c"/><rect x="189.2" y="523.5" width="2.4" height="2.4" fill="#f6e4e4"/>
<rect x="237.7" y="494.3" width="5" height="5" fill="#e64c4c"/><rect x="239.0" y="495.6" width="2.4" height="2.4" fill="#f6e4e4"/>
<rect x="249.4" y="489.1" width="5" height="5" fill="#e64c4c"/><rect x="250.7" y="490.4" width="2.4" height="2.4" fill="#f6e4e4"/>
<rect x="355.7" y="480.9" width="5" height="5" fill="#e64c4c"/><rect x="357.0" y="482.2" width="2.4" height="2.4" fill="#f6e4e4"/>
<rect x="333.1" y="487.3" width="5" height="5" fill="#e64c4c"/><rect x="334.4" y="488.6" width="2.4" height="2.4" fill="#f6e4e4"/>
<rect x="363.2" y="503.4" width="5" height="5" fill="#e64c4c"/><rect x="364.5" y="504.7" width="2.4" height="2.4" fill="#f6e4e4"/>
<rect x="336.2" y="509.9" width="5" height="5" fill="#e64c4c"/><rect x="337.5" y="511.2" width="2.4" height="2.4" fill="#f6e4e4"/>
<rect x="361.4" y="523.3" width="5" height="5" fill="#e64c4c"/><rect x="362.7" y="524.6" width="2.4" height="2.4" fill="#f6e4e4"/>
<rect x="337.4" y="529.2" width="5" height="5" fill="#e64c4c"/><rect x="338.7" y="530.5" width="2.4" height="2.4" fill="#f6e4e4"/>
<rect x="240.6" y="416.9" width="5" height="5" fill="#3e4898"/><rect x="241.9" y="418.2" width="2.4" height="2.4" fill="#e2e4f2"/>
<rect x="265.6" y="412.0" width="5" height="5" fill="#3e4898"/><rect x="266.9" y="413.3" width="2.4" height="2.4" fill="#e2e4f2"/>
<rect x="273.1" y="412.8" width="5" height="5" fill="#3e4898"/><rect x="274.4" y="414.1" width="2.4" height="2.4" fill="#e2e4f2"/>
<rect x="298.2" y="416.7" width="5" height="5" fill="#3e4898"/><rect x="299.5" y="418.0" width="2.4" height="2.4" fill="#e2e4f2"/>
<rect x="198.4" y="441.5" width="5" height="5" fill="#3e4898"/><rect x="199.7" y="442.8" width="2.4" height="2.4" fill="#e2e4f2"/>
<rect x="342.5" y="444.4" width="5" height="5" fill="#3e4898"/><rect x="343.8" y="445.7" width="2.4" height="2.4" fill="#e2e4f2"/>
<rect x="187.1" y="468.8" width="5" height="5" fill="#3e4898"/><rect x="188.4" y="470.1" width="2.4" height="2.4" fill="#e2e4f2"/>
<rect x="209.4" y="476.4" width="5" height="5" fill="#3e4898"/><rect x="210.7" y="477.7" width="2.4" height="2.4" fill="#e2e4f2"/>
<rect x="178.0" y="486.1" width="5" height="5" fill="#3e4898"/><rect x="179.3" y="487.4" width="2.4" height="2.4" fill="#e2e4f2"/>
<rect x="199.9" y="501.1" width="5" height="5" fill="#3e4898"/><rect x="201.2" y="502.4" width="2.4" height="2.4" fill="#e2e4f2"/>
<rect x="172.8" y="506.4" width="5" height="5" fill="#3e4898"/><rect x="174.1" y="507.7" width="2.4" height="2.4" fill="#e2e4f2"/>
<rect x="193.9" y="518.4" width="5" height="5" fill="#3e4898"/><rect x="195.2" y="519.7" width="2.4" height="2.4" fill="#e2e4f2"/>
<rect x="240.2" y="496.3" width="5" height="5" fill="#3e4898"/><rect x="241.5" y="497.6" width="2.4" height="2.4" fill="#e2e4f2"/>
<rect x="252.0" y="490.3" width="5" height="5" fill="#3e4898"/><rect x="253.3" y="491.6" width="2.4" height="2.4" fill="#e2e4f2"/>
<rect x="350.7" y="473.4" width="5" height="5" fill="#3e4898"/><rect x="352.0" y="474.7" width="2.4" height="2.4" fill="#e2e4f2"/>
<rect x="329.4" y="480.3" width="5" height="5" fill="#3e4898"/><rect x="330.7" y="481.6" width="2.4" height="2.4" fill="#e2e4f2"/>
<rect x="358.6" y="495.9" width="5" height="5" fill="#3e4898"/><rect x="359.9" y="497.2" width="2.4" height="2.4" fill="#e2e4f2"/>
<rect x="334.8" y="504.0" width="5" height="5" fill="#3e4898"/><rect x="336.1" y="505.3" width="2.4" height="2.4" fill="#e2e4f2"/>
<rect x="359.5" y="513.1" width="5" height="5" fill="#3e4898"/><rect x="360.8" y="514.4" width="2.4" height="2.4" fill="#e2e4f2"/>
<rect x="336.4" y="522.2" width="5" height="5" fill="#3e4898"/><rect x="337.7" y="523.5" width="2.4" height="2.4" fill="#e2e4f2"/>
<rect x="299.1" y="499.7" width="5" height="5" fill="#3e4898"/><rect x="300.4" y="501.0" width="2.4" height="2.4" fill="#e2e4f2"/>
<rect x="309.0" y="510.9" width="5" height="5" fill="#3e4898"/><rect x="310.3" y="512.2" width="2.4" height="2.4" fill="#e2e4f2"/>
<rect x="86" y="130" width="666" height="2.6" fill="#050505"/>
<rect x="86" y="130" width="1.6" height="438" fill="#111"/>
<rect x="86" y="565.8" width="666" height="2" fill="#111"/>
<rect x="750.8" y="130" width="1.2" height="438" fill="#333"/>
<rect x="415" y="132" width="1.2" height="434" fill="#333"/>
<rect x="87" y="349.3" width="664" height="1.1" fill="#222"/>
<rect x="98" y="348.6" width="291" height="1.8" fill="#111"/>
<rect x="416" y="352.8" width="335" height="1.1" fill="#333"/></svg>
<div class="c j" style="left:136.2px;top:585.92px;width:566.8px;"><b>Fig 2.</b> Three-dimensional analysis of positional changes of the maxillary teeth by using the 3D</div>
<div class="c j" style="left:136.2px;top:600.92px;width:566.8px;">digitizer and Rhinoceros software: <b>A,</b> 18 landmarks on the central incisors, canines, second</div>
<div class="c j" style="left:136.2px;top:616.62px;width:566.8px;">premolars, and first molars; <b>B,</b> top view of the superimposed coordinate input from the pretreatment</div>
<div class="c" style="left:136.2px;top:632.02px;width:566.8px;letter-spacing:0.2px;">and posttreatment maxillary dental models; <b>C,</b> lateral view; <b>D,</b> frontal view.</div>
<div class="b j" style="left:84.2px;top:676.25px;width:318.9px;">val) direction. A positive sign denoted extrusion and a</div>
<div class="b j" style="left:84.2px;top:693.15px;width:318.9px;">negative sign intrusion. To provide more concise in-</div>
<div class="b j" style="left:84.2px;top:710.15px;width:318.9px;">sight to the positional change of the first molar, the</div>
<div class="b j" style="left:84.2px;top:727.15px;width:318.9px;">measurements at the 4 molar cusp tips were averaged to</div>
<div class="b" style="left:84.2px;top:743.95px;width:318.9px;word-spacing:1.60px;">denote the mean movement of occlusal centroid.</div>
<div class="b j" style="left:106.2px;top:796.15px;width:296.9px;">To study the measurement errors, 10 pairs of</div>
<div class="b j" style="left:84.2px;top:813.36px;width:318.9px;">randomly selected pretreatment and posttreatment max-</div>
<div class="b j" style="left:84.2px;top:830.57px;width:318.9px;">illary dental models were measured again 2 weeks later.</div>
<div class="b j" style="left:84.2px;top:847.78px;width:318.9px;">The method error was calculated according to Dahl-</div>
<div class="b j" style="left:84.2px;top:864.99px;width:318.9px;">berg’s formula.<sup>16</sup> The data analyses and statistical</div>
<div class="b j" style="left:84.2px;top:882.20px;width:318.9px;">significance at the level of <i>P</i> <span class="lt">&lt;</span>0.05 were checked by</div>
<div class="b j" style="left:84.2px;top:899.41px;width:318.9px;">using SPSS software (version 10.0, SPSS, Chicago, Ill).</div>
<div class="b j" style="left:84.2px;top:916.62px;width:318.9px;">The means and standard deviations of the treatment-</div>
<div class="b j" style="left:84.2px;top:933.83px;width:318.9px;">induced positional changes at specific landmarks of the</div>
<div class="b j" style="left:84.2px;top:951.04px;width:318.9px;">maxillary teeth were calculated for each of the head-</div>
<div class="b j" style="left:84.2px;top:968.25px;width:318.9px;">gear, miniscrew, and miniplate groups. The data of a</div>
<div class="b j" style="left:84.2px;top:985.46px;width:318.9px;">specific tooth were pooled with those from the con-</div>
<div class="b j" style="left:84.2px;top:1002.67px;width:318.9px;">tralateral side because differences between the corre-</div>
<div class="b j" style="left:84.2px;top:1019.88px;width:318.9px;">sponding teeth in the first and second quadrants were</div>
<div class="b j" style="left:437.0px;top:676.15px;width:318.9px;">not significant. One-way ANOVA and the post-hoc</div>
<div class="b j" style="left:437.0px;top:693.15px;width:318.9px;">Scheffé test were used to check for differences among</div>
<div class="b j" style="left:437.0px;top:710.15px;width:318.9px;">the headgear and the 2 mini-implant groups. Statistical</div>
<div class="b" style="left:437.0px;top:727.05px;width:318.9px;word-spacing:1.90px;">significance was set at <i>P</i> <span class="lt">&lt;</span>0.05.</div>
<div class="b j" style="left:458.0px;top:779.15px;width:297.9px;">Our subjects included those with Angle Class I and</div>
<div class="b j" style="left:437.0px;top:796.34px;width:318.9px;">Class II malocclusions with the common characteristic</div>
<div class="b j" style="left:437.0px;top:813.53px;width:318.9px;">of maxillary dentoalveolar protrusion. Their underlying</div>
<div class="b j" style="left:437.0px;top:830.72px;width:318.9px;">skeletal patterns ranged from skeletal Class I to Class</div>
<div class="b j" style="left:437.0px;top:847.91px;width:318.9px;">II. The mean measurement of the ANB angle, an</div>
<div class="b j" style="left:437.0px;top:865.10px;width:318.9px;">indicator of jaw-base discrepancy, in the miniplate</div>
<div class="b j" style="left:437.0px;top:882.29px;width:318.9px;">group (6.4° <span class="pm">±</span> 3.8°) was higher than that of the</div>
<div class="b j" style="left:437.0px;top:899.48px;width:318.9px;">headgear (4.8° <span class="pm">±</span> 2.5°) and miniscrew (4.4° <span class="pm">±</span> 2.9°)</div>
<div class="b j" style="left:437.0px;top:916.67px;width:318.9px;">groups. However, differences in the ANB angle among</div>
<div class="b j" style="left:437.0px;top:933.86px;width:318.9px;">the 3 groups did not reach statistical significance (<i>P</i> =</div>
<div class="b j" style="left:437.0px;top:951.05px;width:318.9px;">0.116). The mean treatment duration of the miniscrew</div>
<div class="b j" style="left:437.0px;top:968.24px;width:318.9px;">group (27.1 months) was shorter than for the headgear</div>
<div class="b j" style="left:437.0px;top:985.43px;width:318.9px;">and miniplate groups (33.6 and 31.4 months, <i>P</i> <span class="lt">&lt;</span>0.001).</div>
<div class="b j" style="left:437.0px;top:1002.62px;width:318.9px;">However, differences between the headgear and the</div>
<div class="b j" style="left:437.0px;top:1019.81px;width:318.9px;">miniplate groups did not reach statistical significance</div>
<div class="h" style="left:84.3px;top:774.84px;letter-spacing:0.42px;">Statistical analysis</div>
<div class="h" style="left:437px;top:758.13px;">RESULTS</div>
</body></html>
